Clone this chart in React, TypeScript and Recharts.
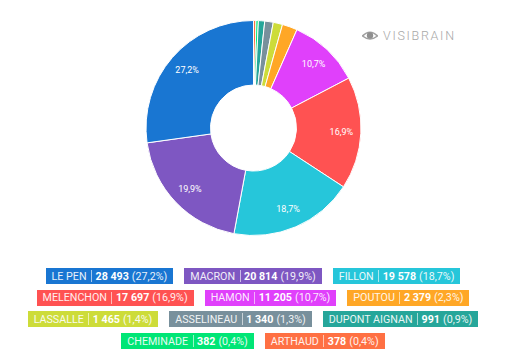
import React from "react";
import { PieChart, Pie, Cell } from "recharts";

const candidates = [
  "ARTHAUD",
  "CHEMINADE",
  "DUPONT AIGNAN",
  "ASSELINEAU",
  "LASSALLE",
  "POUTOU",
  "HAMON",
  "MELENCHON",
  "FILLON",
  "MACRON",
  "LE PEN",
];
const votes = [378, 382, 991, 1340, 1465, 2379, 11205, 17697, 19578, 20814, 28493];
const shares = ["0,4", "0,4", "0,9", "1,3", "1,4", "2,3", "10,7", "16,9", "18,7", "19,9", "27,2"];
const colors = [
  "#FF7043",
  "#00E676",
  "#26A69A",
  "#78909C",
  "#CDDC39",
  "#FFA726",
  "#E040FB",
  "#FF5252",
  "#26C6DA",
  "#7E57C2",
  "#1976D2",
];

const data = candidates.map((name, i) => ({
  name,
  votes: votes[i],
  share: shares[i],
  color: colors[i],
}));

const legendItems = [...data].reverse();
const font = "Roboto, sans-serif";
const RADIAN = Math.PI / 180;

const formatVotes = (v: number) => String(v).replace(/\B(?=(\d{3})+$)/g, " ");

const renderLabel = (props: any) => {
  const { cx, cy, midAngle, index } = props;
  if (parseFloat(shares[index].replace(",", ".")) < 5) return null;
  const x = cx + 88 * Math.cos(-midAngle * RADIAN);
  const y = cy + 88 * Math.sin(-midAngle * RADIAN);
  return (
    <text
      x={x}
      y={y}
      fill="#fff"
      fontFamily={font}
      fontSize={9}
      textAnchor="middle"
      dominantBaseline="central"
    >
      {shares[index]}%
    </text>
  );
};

const Logo = () => (
  <div
    style={{
      position: "absolute",
      left: 362,
      top: 29,
      display: "flex",
      alignItems: "center",
      gap: 5,
      color: "#a8a8a8",
      fontFamily: font,
      fontWeight: 300,
      fontSize: 12.5,
      letterSpacing: 1.7,
      lineHeight: "14px",
    }}
  >
    <svg width={16} height={13} viewBox="0 0 16 13">
      <path d="M0.5 6 Q8 -1.5 15.5 6 Q8 12 0.5 6 Z" fill="none" stroke="#a0a0a0" strokeWidth={1.6} />
      <circle cx={8} cy={5.5} r={3.2} fill="#8f8f8f" />
    </svg>
    <span>VISIBRAIN</span>
  </div>
);

const Badge = ({ item }: { item: (typeof data)[number] }) => (
  <div
    style={{
      display: "flex",
      alignItems: "center",
      height: 16,
      padding: "0 6px",
      background: item.color,
      color: "#fff",
      fontFamily: font,
      fontSize: 10.7,
      whiteSpace: "nowrap",
    }}
  >
    <span style={{ opacity: 0.9 }}>{item.name}</span>
    <span style={{ width: 1, height: 12, margin: "0 3.5px 0 4.5px", background: "rgba(255,255,255,0.6)" }} />
    <span style={{ fontWeight: 700 }}>{formatVotes(item.votes)}</span>
    <span style={{ marginLeft: 3, opacity: 0.9 }}>({item.share}%)</span>
  </div>
);

export default function App() {
  return (
    <div
      style={{
        position: "absolute",
        left: 0,
        top: 0,
        width: 509,
        height: 353,
        background: "#fff",
        overflow: "hidden",
      }}
    >
      <PieChart width={509} height={256} margin={{ top: 0, right: 0, bottom: 0, left: 0 }}>
        <Pie
          data={data}
          dataKey="votes"
          nameKey="name"
          cx={253.5}
          cy={128}
          innerRadius={43}
          outerRadius={107.5}
          startAngle={90}
          endAngle={-270}
          stroke="#fff"
          strokeWidth={1}
          label={renderLabel}
          labelLine={false}
          isAnimationActive={false}
        >
          {data.map((entry) => (
            <Cell key={entry.name} fill={entry.color} />
          ))}
        </Pie>
      </PieChart>
      <Logo />
      <div
        style={{
          position: "absolute",
          left: 23,
          top: 268,
          width: 460,
          display: "flex",
          flexWrap: "wrap",
          justifyContent: "center",
          columnGap: 11,
          rowGap: 5.7,
        }}
      >
        {legendItems.map((item) => (
          <Badge key={item.name} item={item} />
        ))}
      </div>
    </div>
  );
}
